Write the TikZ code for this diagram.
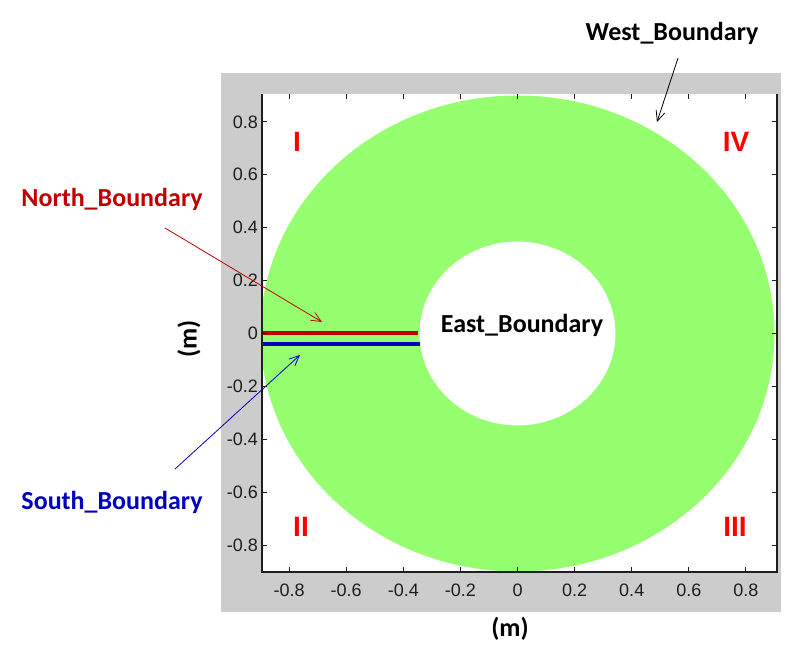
\documentclass[tikz,border=0pt]{standalone}
\usepackage{fontspec}
\setmainfont{Carlito}
\newfontfamily\axisfont{Liberation Sans}
\usetikzlibrary{arrows.meta}
\definecolor{figgray}{RGB}{204,204,204}
\definecolor{ringgreen}{RGB}{150,255,112}
\definecolor{northred}{RGB}{192,0,0}
\definecolor{southblue}{RGB}{0,0,192}
\definecolor{axisgray}{RGB}{30,30,30}
\tikzset{
  bndlabel/.style={font=\fontsize{26}{30}\selectfont\bfseries,inner sep=0pt},
  quadrant/.style={font=\axisfont\fontsize{28}{30}\selectfont\bfseries,text=red,inner sep=0pt},
  ticklabel/.style={font=\axisfont\fontsize{18}{20}\selectfont,text=axisgray,inner sep=0pt},
  pointer/.style={-{Straight Barb[length=10pt,width=9pt]},line width=0.8pt},
}
\begin{document}
\begin{tikzpicture}[x=1pt,y=-1pt]
  \useasboundingbox (0,0) rectangle (799,650);
  \fill[white] (0,0) rectangle (799,650);
  % figure and axes background
  \fill[figgray] (221,73) rectangle (781,612);
  \fill[white] (262,94) rectangle (777,572);
  % ring
  \fill[ringgreen,even odd rule]
    (517.5,333.5) ellipse [x radius=257pt,y radius=238pt]
    (517.5,333.5) ellipse [x radius=98pt,y radius=92pt];
  % cut lines
  \draw[northred,line width=3.3pt] (262,333) -- (418,333);
  \draw[southblue,line width=3.3pt] (262,344) -- (420,344);
  % axes
  \draw[axisgray,line width=1.3pt] (262,94) -- (262,572) -- (777,572) -- (777,94);
  \foreach \v [count=\i] in {-0.8,-0.6,-0.4,-0.2,0,0.2,0.4,0.6,0.8} {
    \draw[axisgray,line width=1pt] ({517.5+\v*285.6},572) -- ++(0,-5);
    \draw[axisgray,line width=1pt] ({517.5+\v*285.6},94) -- ++(0,5);
    \draw[axisgray,line width=1pt] (262,{333.5-\v*264.5}) -- ++(5,0);
    \draw[axisgray,line width=1pt] (777,{333.5-\v*264.5}) -- ++(-5,0);
    \node[ticklabel] (xt\i) at ({517.5+\v*285.6},590) {\v};
    \node[ticklabel,anchor=east] (yt\i) at (258,{333.5-\v*264.5}) {\v};
  }
  % axis titles
  \node[bndlabel] (xname) at (510,629) {(m)};
  \node[bndlabel,rotate=90] (yname) at (189,339) {(m)};
  % quadrants
  \node[quadrant] (q1) at (297,142) {I};
  \node[quadrant] (q4) at (736,142) {IV};
  \node[quadrant] (q2) at (301,527) {II};
  \node[quadrant] (q3) at (735,527) {III};
  % boundary names
  \node[bndlabel] (west) at (672,33) {West\_Boundary};
  \node[bndlabel,text=northred] (north) at (112,199) {North\_Boundary};
  \node[bndlabel,text=southblue] (south) at (112,502) {South\_Boundary};
  \node[bndlabel] (east) at (522,325) {East\_Boundary};
  \coordinate (westfrom) at (678,58);
  \coordinate (westto) at (657,122);
  \coordinate (northfrom) at (165,228);
  \coordinate (northto) at (322,322);
  \coordinate (southfrom) at (175,469);
  \coordinate (southto) at (300,355);
  \draw[pointer,black] (westfrom) -- (westto);
  \draw[pointer,northred] (northfrom) -- (northto);
  \draw[pointer,southblue] (southfrom) -- (southto);
\end{tikzpicture}
\end{document}
